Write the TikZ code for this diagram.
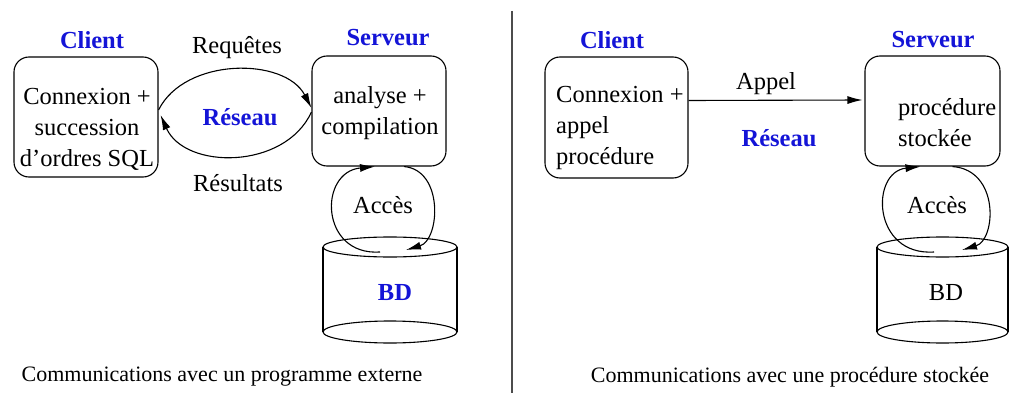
\documentclass[tikz,border=0pt]{standalone}
\usepackage{fontspec}
\setmainfont{Liberation Serif}
\usetikzlibrary{arrows.meta,calc}
\definecolor{netblue}{RGB}{20,20,215}
\begin{document}
\begin{tikzpicture}[x=1pt,y=-1pt,
  txt/.style={font=\fontsize{24.5}{31}\selectfont, inner sep=0pt},
  ttl/.style={font=\fontsize{24.5}{31}\selectfont\bfseries, text=netblue, inner sep=0pt},
  captext/.style={font=\fontsize{22}{26}\selectfont, inner sep=0pt},
  box/.style={draw, line width=1.1pt, rounded corners=15pt, inner sep=0pt},
  ln/.style={line width=1.1pt},
  arr/.style={line width=1.1pt, -{Latex[length=15pt,width=8pt]}}]
\useasboundingbox (0,0) rectangle (1011,393);

% ---------- left part ----------
\node[ttl] (tcl) at (92,40) {Client};
\node[ttl] (tsa) at (388,38) {Serveur};
\node[box, minimum width=144pt, minimum height=120pt] (cl) at (86,117) {};
\node[txt, align=center] (clt) at (87,129) {Connexion +\\succession\\d'ordres SQL};
\node[box, minimum width=134pt, minimum height=110pt] (sa) at (379,111) {};
\node[txt, align=center] (sat) at (380,113) {analyse +\\compilation};
\node[txt] (req) at (237,48) {Requêtes};
\node[ttl] (resa) at (240,117) {Réseau};
\node[txt] (res) at (238,183) {Résultats};
\draw[arr] ($(cl.east)+(0,-7)$) .. controls (185,57) and (285,57) .. ($(sa.west)+(0,-3)$);
\draw[arr] ($(sa.west)+(0,1)$) .. controls (285,170) and (185,170) .. ($(cl.east)+(2,-2)$);

% cylinder left
\draw[ln] (323,247) -- (323,332) (457,247) -- (457,332);
\draw[ln, fill=white] (390,247) ellipse [x radius=67pt, y radius=10pt];
\draw[ln] (390,332) ellipse [x radius=67pt, y radius=11pt];
\node[ttl] (bda) at (395,293) {BD};
\node[txt] (acca) at (383,205) {Accès};
\coordinate (la1) at (380,252);
\coordinate (la2) at ($(sa.south)+(-4,0)$);
\coordinate (la3) at ($(sa.south)+(25,0)$);
\coordinate (la4) at (406,250);
\draw[arr] (la1) .. controls (320,256) and (318,172) .. (la2);
\draw[arr] (la3) .. controls (444,170) and (440,240) .. (la4);

% separator
\draw[line width=1.4pt, black!70] (512,11) -- (512,393);

% ---------- right part ----------
\node[ttl] (tcr) at (612,40) {Client};
\node[ttl] (tsr) at (933,40) {Serveur};
\node[box, minimum width=143pt, minimum height=121pt] (cr) at (616.5,117.5) {};
\node[txt, align=left, anchor=west] (crt) at (556,128) {Connexion +\\appel\\procédure};
\node[box, minimum width=135pt, minimum height=110pt] (sr) at (932.5,111) {};
\node[txt, align=left, anchor=west] (srt) at (898,123) {procédure\\stockée};
\node[txt] (app) at (766,84) {Appel};
\node[ttl] (resr) at (779,138) {Réseau};
\draw[arr] ($(cr.east)+(0,-17)$) -- ($(sr.west)+(-2,-11)$);

% cylinder right
\draw[ln] (877,247) -- (877,332) (1008,247) -- (1008,332);
\draw[ln, fill=white] (942.5,247) ellipse [x radius=65.5pt, y radius=10pt];
\draw[ln] (942.5,332) ellipse [x radius=65.5pt, y radius=11pt];
\node[txt] (bdr) at (946,293) {BD};
\node[txt] (accr) at (937,205) {Accès};
\coordinate (lb1) at (934,252);
\coordinate (lb2) at ($(sr.south)+(-12,0)$);
\coordinate (lb3) at ($(sr.south)+(20,0)$);
\coordinate (lb4) at (962,250);
\draw[arr] (lb1) .. controls (872,256) and (870,172) .. (lb2);
\draw[arr] (lb3) .. controls (1000,170) and (996,240) .. (lb4);

% captions
\node[captext] (capa) at (222,377) {Communications avec un programme externe};
\node[captext] (capb) at (790,377) {Communications avec une procédure stockée};
\end{tikzpicture}
\end{document}
